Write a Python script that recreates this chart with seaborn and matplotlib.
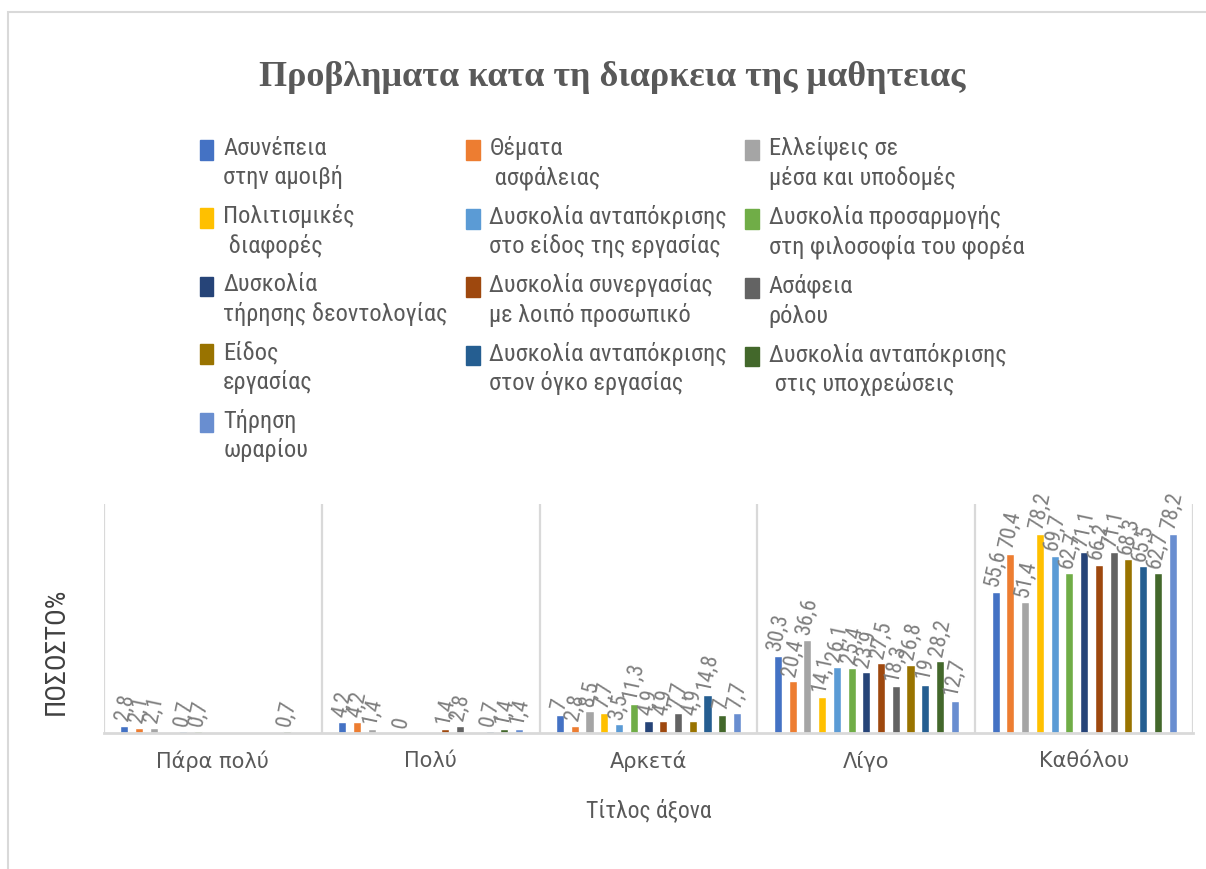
import numpy as np
import pandas as pd
import seaborn as sns
import matplotlib
matplotlib.use("Agg")
import matplotlib.pyplot as plt
from matplotlib import font_manager
from matplotlib.patches import Rectangle
from matplotlib.legend_handler import HandlerPatch

categories = ["Πάρα πολύ", "Πολύ", "Αρκετά", "Λίγο", "Καθόλου"]
series = [
    "Ασυνέπεια\nστην αμοιβή",
    "Θέματα\n ασφάλειας",
    "Ελλείψεις σε\nμέσα και υποδομές",
    "Πολιτισμικές\n διαφορές",
    "Δυσκολία ανταπόκρισης\nστο είδος της εργασίας",
    "Δυσκολία προσαρμογής\nστη φιλοσοφία του φορέα",
    "Δυσκολία\nτήρησης δεοντολογίας",
    "Δυσκολία συνεργασίας\nμε λοιπό προσωπικό",
    "Ασάφεια\nρόλου",
    "Είδος\nεργασίας",
    "Δυσκολία ανταπόκρισης\nστον όγκο εργασίας",
    "Δυσκολία ανταπόκρισης\n στις υποχρεώσεις",
    "Τήρηση\nωραρίου",
]
colors = ["#4472C4", "#ED7D31", "#A5A5A5", "#FFC000", "#5B9BD5", "#70AD47",
          "#264478", "#9E480E", "#636363", "#997300", "#255E91", "#43682B",
          "#698ED0"]
nan = np.nan
# values per series across categories (Πάρα πολύ, Πολύ, Αρκετά, Λίγο, Καθόλου)
s01 = [2.8, 4.2, 7.0, 30.3, 55.6]
s02 = [2.1, 4.2, 2.8, 20.4, 70.4]
s03 = [2.1, 1.4, 8.5, 36.6, 51.4]
s04 = [nan, nan, 7.7, 14.1, 78.2]
s05 = [0.7, 0.0, 3.5, 26.1, 69.7]
s06 = [0.7, nan, 11.3, 25.4, 62.7]
s07 = [nan, nan, 4.9, 23.9, 71.1]
s08 = [nan, 1.4, 4.9, 27.5, 66.2]
s09 = [nan, 2.8, 7.7, 18.3, 71.1]
s10 = [nan, nan, 4.9, 26.8, 68.3]
s11 = [nan, 0.7, 14.8, 19.0, 65.5]
s12 = [0.7, 1.4, 7.0, 28.2, 62.7]
s13 = [nan, 1.4, 7.7, 12.7, 78.2]
values = [s01, s02, s03, s04, s05, s06, s07, s08, s09, s10, s11, s12, s13]

rows = []
for name, vals in zip(series, values):
    for c, v in zip(categories, vals):
        rows.append({"cat": c, "series": name, "val": v})
df = pd.DataFrame(rows)

sns.set_theme(style="white")
names = {f.name for f in font_manager.fontManager.ttflist}
narrow = "Roboto"
for cand in ["Roboto Condensed", "Open Sans Condensed", "Archivo Narrow"]:
    if cand in names:
        narrow = cand
        break
plt.rcParams["font.family"] = [narrow, "DejaVu Sans"]

W, H = 1206, 870
fig = plt.figure(figsize=(W / 100, H / 100), dpi=100)
fig.patch.set_facecolor("white")
ax = fig.add_axes([104 / W, 1 - 734 / H, (1193 - 104) / W, (734 - 505) / H])

sns.barplot(data=df, x="cat", y="val", hue="series", order=categories,
            hue_order=series, palette=colors, saturation=1, width=0.88,
            gap=0.45, errorbar=None, legend=False, ax=ax)

ax.set_ylim(0, 90)
ax.set_xlim(-0.5, 4.5)
ax.set_yticks([])
for b in np.arange(-0.5, 5.0, 1.0):
    ax.axvline(b, color="#D9D9D9", lw=1.6, zorder=0)
for s in ["top", "right", "left"]:
    ax.spines[s].set_visible(False)
ax.spines["bottom"].set_color("#D9D9D9")
ax.spines["bottom"].set_linewidth(2.0)
ax.tick_params(axis="x", length=0, pad=12, labelsize=15, labelcolor="#595959")
for t in ax.get_xticklabels():
    t.set_family(["DejaVu Sans"])
ax.set_xlabel("Τίτλος άξονα", fontsize=17, color="#595959", labelpad=18.5)
ax.set_ylabel("ΠΟΣΟΣΤΟ%", fontsize=20, color="#404040")
ax.yaxis.set_label_coords(-0.031, 0.36)


def fmt(v):
    return f"{v:g}".replace(".", ",")


for cont in ax.containers:
    ax.bar_label(cont, fmt=fmt, rotation=78, padding=3, color="#7F7F7F",
                 fontsize=16)

fig.text(0.5075, 1 - 77 / H, "Προβληματα κατα τη διαρκεια της μαθητειας",
         ha="center", va="center", fontsize=26, fontweight="bold",
         color="#595959", family=["Liberation Serif", "DejaVu Serif"])

LEG_FS = 17.6
SHIFT = 8.0


def top_patch(legend, orig_handle, xdescent, ydescent, width, height, fontsize):
    return Rectangle((-xdescent, -ydescent + SHIFT), width, 0.8 * fontsize)


order = [0, 3, 6, 9, 12, 1, 4, 7, 10, 2, 5, 8, 11]
handles = [Rectangle((0, 0), 1, 1, color=colors[i]) for i in order]
labels = [series[i] for i in order]
leg = fig.legend(handles, labels, ncol=3, loc="upper left",
                 bbox_to_anchor=(200 / W, 1 - 136 / H), frameon=False,
                 fontsize=LEG_FS, labelcolor="#595959", handlelength=0.55,
                 handleheight=0.7, handletextpad=0.4, columnspacing=0.75,
                 labelspacing=0.62, borderpad=0, borderaxespad=0,
                 handler_map={Rectangle: HandlerPatch(patch_func=top_patch)})
for t in leg.get_texts():
    t.set_linespacing(1.28)

fig.add_artist(Rectangle((8 / W, -0.05), 1.2, 1.05 - 13 / H,
                         transform=fig.transFigure, fill=False,
                         edgecolor="#D9D9D9", lw=1.5))

fig.savefig("out.png", dpi=100, facecolor="white")
